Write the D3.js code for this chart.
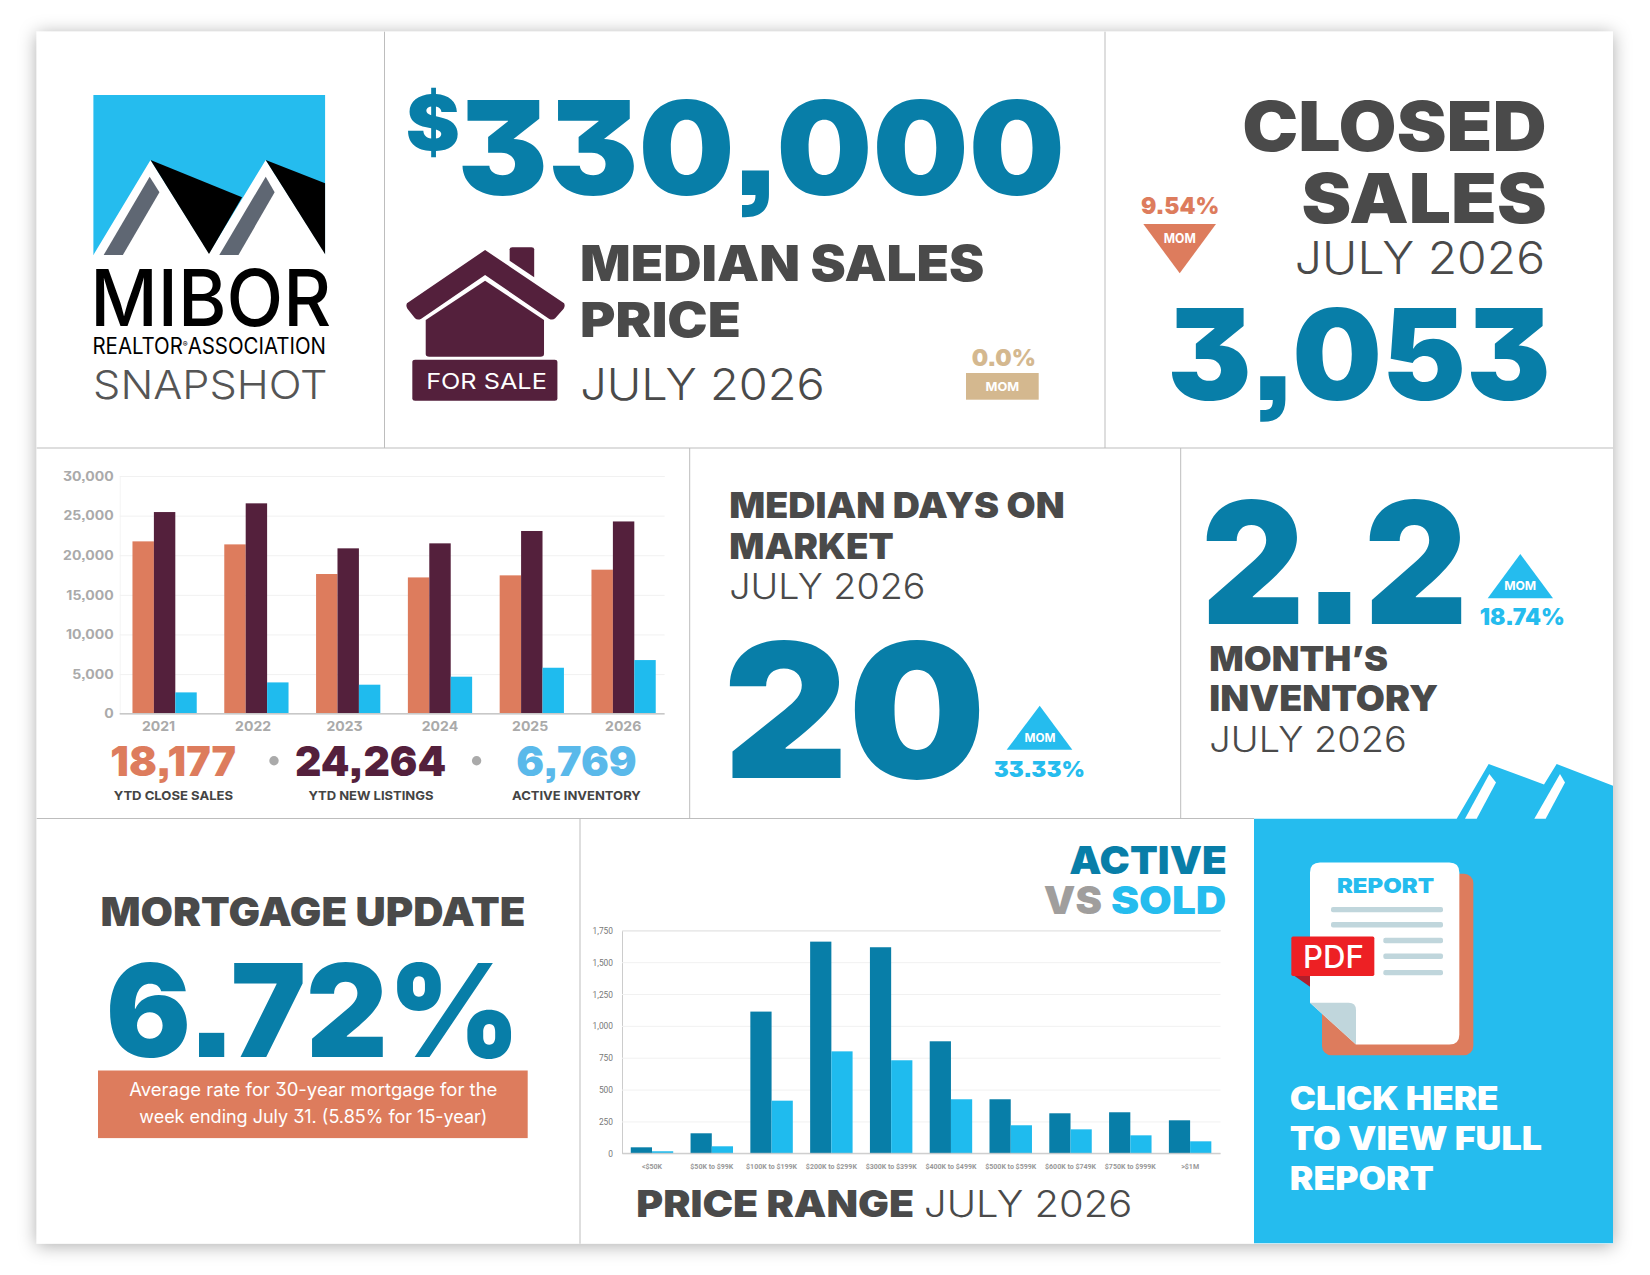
<!DOCTYPE html>
<html>
<head>
<meta charset="utf-8">
<script src="https://cdn.jsdelivr.net/npm/d3@7"></script>
<style>
  html, body { margin: 0; padding: 0; background: #fff; }
  svg { display: block; }
  text { font-family: Inter, Lato, "Open Sans", sans-serif; font-feature-settings: "cv09", "ss07"; }
</style>
</head>
<body>
<svg id="page" width="1650" height="1275"></svg>
<script>
// yearly chart
var years = ['2021', '2022', '2023', '2024', '2025', '2026'];
var closeSales = [21750, 21370, 17630, 17200, 17460, 18177];
var newListings = [25450, 26550, 20870, 21500, 23060, 24264];
var activeInventory = [2690, 3950, 3660, 4670, 5800, 6769];
var yearTicks = [0, 5000, 10000, 15000, 20000, 25000, 30000];

// price range chart
var priceRanges = ['<$50K', '$50K to $99K', '$100K to $199K', '$200K to $299K', '$300K to $399K',
  '$400K to $499K', '$500K to $599K', '$600K to $749K', '$750K to $999K', '>$1M'];
var activeCounts = [47, 157, 1112, 1661, 1617, 879, 424, 314, 322, 259];
var soldCounts = [16, 55, 413, 800, 730, 424, 220, 188, 141, 94];
var priceTicks = [0, 250, 500, 750, 1000, 1250, 1500, 1750];

var teal = '#087ea8', sky = '#25bcee', plum = '#54203c', coral = '#dd7c5d', ink = '#4a4a4a', tan = '#d4b88f';
var heavy = 900;

var svg = d3.select('#page');

var defs = svg.append('defs');
var shadow = defs.append('filter').attr('id', 'shadow')
  .attr('x', '-5%').attr('y', '-5%').attr('width', '110%').attr('height', '110%');
shadow.append('feDropShadow').attr('dx', 0).attr('dy', 2).attr('stdDeviation', 9)
  .attr('flood-color', '#000').attr('flood-opacity', 0.33);

svg.append('rect').attr('x', 36.7).attr('y', 31.7).attr('width', 1576.3).attr('height', 1212)
  .attr('fill', '#fff').attr('filter', 'url(#shadow)');

// text fitted between two x positions, size comes from the cap height
// the side bearings are pushed outside the two positions so the ink lands on them
function txt(s, x0, x1, base, capH, weight, fill, parent) {
  var size = capH / 0.727, b = size * 0.04;
  return (parent || svg).append('text')
    .attr('x', x0 - b).attr('y', base)
    .attr('font-size', size)
    .attr('font-weight', weight)
    .attr('fill', fill)
    .attr('textLength', x1 - x0 + 2 * b)
    .attr('lengthAdjust', 'spacingAndGlyphs')
    .text(s);
}
function squeeze(sel, k) {
  sel.each(function () {
    this.setAttribute('textLength', this.getComputedTextLength() * k);
    this.setAttribute('lengthAdjust', 'spacingAndGlyphs');
  });
}
function tri(points, fill) {
  svg.append('polygon').attr('points', points.join(' ')).attr('fill', fill);
}

// panel rules
var rules = [
  [36.7, 448, 1613, 448], [36.7, 818.5, 1254, 818.5],
  [384.5, 31.7, 384.5, 448], [1105, 31.7, 1105, 448],
  [689.7, 448, 689.7, 818.5], [1180.7, 448, 1180.7, 818.5],
  [580, 818.5, 580, 1243.7]
];
svg.selectAll('line.rule').data(rules).enter().append('line').attr('class', 'rule')
  .attr('x1', d => d[0]).attr('y1', d => d[1]).attr('x2', d => d[2]).attr('y2', d => d[3])
  .attr('stroke', '#bdbdbd').attr('stroke-width', 1);

// logo
var logo = svg.append('g').attr('transform', 'translate(30,20) scale(' + (1 / 2.24) + ',' + (1 / 3) + ')');
logo.append('rect').attr('x', 142).attr('y', 225).attr('width', 519).attr('height', 480).attr('fill', sky);
logo.append('polygon').attr('fill', '#fff').attr('points', '142,705 270,420 401,700 528,420 661,700 661,706');
logo.append('polygon').attr('fill', '#000').attr('points', '270,420 475,532 401,702');
logo.append('polygon').attr('fill', '#000').attr('points', '528,420 661,490 661,703');
logo.append('polygon').attr('fill', '#5f6773').attr('points', '268,470 290,517 208,705 165,705');
logo.append('polygon').attr('fill', '#5f6773').attr('points', '528,470 548,517 467,705 424,705');
txt('MIBOR', 93.4, 328, 325.7, 57, 500, '#000');
var realtor = txt('REALTOR', 93.4, 325, 354, 16.4, 400, '#000');
realtor.append('tspan').attr('font-size', 8).attr('dy', -7).text('\u00ae');
realtor.append('tspan').attr('dy', 7).text('ASSOCIATION');
txt('SNAPSHOT', 94.7, 326, 399, 29, 300, '#555');

// median price
txt('$', 408.8, 457, 150, 55, heavy, teal);
txt('330,000', 462.8, 1059.6, 195, 95, heavy, teal);
txt('MEDIAN SALES', 582, 982.4, 280.7, 36, heavy, ink);
txt('PRICE', 582, 739, 336.7, 35, heavy, ink);
txt('JULY 2026', 582, 823, 400, 31.7, 300, ink);
txt('0.0%', 972.6, 1035, 366, 16.7, heavy, tan);
svg.append('rect').attr('x', 966).attr('y', 373).attr('width', 72.7).attr('height', 26.7).attr('fill', tan);
txt('MOM', 986, 1018.6, 391, 9, 700, '#fff');

// house
var house = svg.append('g').attr('transform', 'translate(390,70) scale(' + (1 / 2.24) + ',' + (1 / 3) + ')').attr('fill', plum);
house.append('path').attr('d', 'M213,540 L390,700 Q393,708 389,716 L370,745 Q364,752 356,746 L213,615 L70,746 Q62,752 56,745 L39,716 Q35,708 38,700 Z');
house.append('path').attr('d', 'M268,572 V538 Q268,532 274,532 H317 Q323,532 323,538 V622 Z');
house.append('path').attr('d', 'M213,632 L345,750 V852 Q345,860 337,860 H88 Q80,860 80,852 V750 Z');
house.append('rect').attr('x', 50).attr('y', 869).attr('width', 325).attr('height', 123).attr('rx', 6);
txt('FOR SALE', 427, 546, 389, 15.5, 400, '#fff');

// closed sales
txt('CLOSED', 1245, 1544, 151, 50, heavy, ink);
txt('SALES', 1304.3, 1544, 223.3, 50, heavy, ink);
txt('JULY 2026', 1296.7, 1543.3, 274, 33, 300, ink);
txt('3,053', 1172.3, 1545.7, 400, 92, heavy, teal);
txt('9.54%', 1142, 1218.3, 214, 16.7, heavy, coral);
tri([[1143.3, 224], [1216, 224], [1179.7, 273.3]], coral);
txt('MOM', 1164.3, 1195.3, 243.3, 9.3, 700, '#fff');

// yearly bars
var yTop = 476, yBase = 713.7, plotL = 119.7, plotR = 664.6;
var y1 = d3.scaleLinear().domain([0, 30000]).range([yBase, yTop]);
var x1 = d3.scaleBand().domain(years).range([118.7, 669.5]).paddingInner(0.3).paddingOuter(0.15);
var x1s = d3.scaleBand().domain(['close', 'listings', 'active']).range([0, x1.bandwidth()]);
var x1Labels = d3.scaleOrdinal().domain(years).range([158, 252.6, 344, 439.4, 529.6, 622.7]);

var yAxis1 = svg.append('g').attr('transform', 'translate(' + plotL + ',0)')
  .call(d3.axisLeft(y1).tickValues(yearTicks).tickFormat(d3.format(',')).tickSize(-(plotR - plotL)).tickPadding(6));
yAxis1.select('.domain').attr('stroke', '#f4f4f4');
yAxis1.selectAll('.tick line').attr('stroke', '#f1f1f1');
yAxis1.selectAll('.tick text').attr('fill', '#aaa').attr('font-size', 13).attr('font-weight', 700)
  .style('font-family', 'Inter').call(squeeze, 1.08);

var series1 = [['close', closeSales, coral], ['listings', newListings, plum], ['active', activeInventory, '#1fbbee']];
series1.forEach(function (s) {
  svg.append('g').selectAll('rect').data(s[1]).enter().append('rect')
    .attr('x', (d, i) => x1(years[i]) + x1s(s[0]))
    .attr('y', d => y1(d))
    .attr('width', x1s.bandwidth())
    .attr('height', d => y1(0) - y1(d))
    .attr('fill', s[2]);
});
svg.append('line').attr('x1', plotL).attr('x2', plotR).attr('y1', yBase).attr('y2', yBase)
  .attr('stroke', '#c8c8c8').attr('stroke-width', 1.5);

var xAxis1 = svg.append('g').attr('transform', 'translate(0,' + yBase + ')')
  .call(d3.axisBottom(x1Labels).tickSize(0).tickPadding(8));
xAxis1.select('.domain').remove();
xAxis1.selectAll('.tick text').attr('fill', '#aaa').attr('font-size', 13.5).attr('font-weight', 700)
  .style('font-family', 'Inter').call(squeeze, 1.04);

txt('18,177', 112, 234.3, 776, 30, heavy, coral);
txt('24,264', 296.7, 444.5, 776, 30, heavy, plum);
txt('6,769', 518, 635, 776, 30, heavy, '#5ab9ea');
svg.append('circle').attr('cx', 274).attr('cy', 760.7).attr('r', 4.7).attr('fill', '#aaa');
svg.append('circle').attr('cx', 476.6).attr('cy', 760.7).attr('r', 4.7).attr('fill', '#aaa');
txt('YTD CLOSE SALES', 114.2, 232.6, 800, 9, 700, '#444');
txt('YTD NEW LISTINGS', 309, 433, 800, 9, 700, '#444');
txt('ACTIVE INVENTORY', 512.5, 640.3, 800, 9, 700, '#444');

// days on market
txt('MEDIAN DAYS ON', 730.7, 1063.3, 518.3, 25.7, heavy, ink);
txt('MARKET', 730.7, 892.3, 559, 25.7, heavy, ink);
txt('JULY 2026', 730.7, 924, 599.3, 26, 300, ink);
txt('20', 730.7, 978.3, 777.7, 135.7, heavy, teal);
tri([[1006.7, 749.7], [1072.3, 749.7], [1039.7, 705.7]], sky);
txt('MOM', 1025, 1055, 742, 8.7, 700, '#fff');
txt('33.33%', 994.7, 1084, 776.7, 16, heavy, sky);

// months of inventory
txt('2.2', 1208, 1460.7, 624.3, 123.7, heavy, teal);
tri([[1487.7, 598.3], [1553, 598.3], [1520.3, 554]], sky);
txt('MOM', 1504.7, 1535.7, 590, 9, 700, '#fff');
txt('18.74%', 1480.7, 1564, 624.7, 16.3, heavy, sky);
txt('MONTH\u2019S', 1210.7, 1386.7, 670.7, 25, heavy, ink);
txt('INVENTORY', 1210.7, 1436.7, 710.7, 25.7, heavy, ink);
txt('JULY 2026', 1210.7, 1405.3, 752, 25.5, 300, ink);

// mortgage
txt('MORTGAGE UPDATE', 102, 524, 926, 29, heavy, ink);
txt('6.72%', 111, 515, 1056.5, 93.7, heavy, teal);
svg.append('rect').attr('x', 98).attr('y', 1070.5).attr('width', 429.7).attr('height', 67.6).attr('fill', coral);
txt('Average rate for 30-year mortgage for the', 130, 496.7, 1096.2, 13.3, 400, '#fff');
txt('week ending July 31. (5.85% for 15-year)', 140, 486.7, 1123, 13.3, 400, '#fff');

// price range chart
txt('ACTIVE', 1070.9, 1225.3, 874, 28.3, heavy, teal);
txt('VS', 1045.3, 1100.4, 914, 27.7, heavy, '#a09e9d');
txt('SOLD', 1112.5, 1224.8, 914, 27.7, heavy, sky);
txt('PRICE RANGE', 637.7, 912.6, 1216.7, 26.7, heavy, ink);
txt('JULY 2026', 925.6, 1130.7, 1216.7, 26.7, 300, ink);

var y2Top = 930.3, y2Base = 1153.3, p2L = 622, p2R = 1220.5;
var y2 = d3.scaleLinear().domain([0, 1750]).range([y2Base, y2Top]);
var x2 = d3.scaleBand().domain(priceRanges).range([622.1, 1220]).paddingInner(0.29).paddingOuter(0.145);
var x2s = d3.scaleBand().domain(['active', 'sold']).range([0, x2.bandwidth()]);

var yAxis2 = svg.append('g').attr('transform', 'translate(' + p2L + ',0)')
  .call(d3.axisLeft(y2).tickValues(priceTicks).tickFormat(d3.format(',')).tickSize(-(p2R - p2L)).tickPadding(9));
yAxis2.select('.domain').attr('stroke', '#ccc');
yAxis2.selectAll('.tick line').attr('stroke', '#f1f1f1');
yAxis2.selectAll('.tick text').attr('fill', '#777').attr('font-size', 9.5)
  .style('font-family', 'Roboto').call(squeeze, 0.88);

[['active', activeCounts, teal], ['sold', soldCounts, '#1fbbee']].forEach(function (s) {
  svg.append('g').selectAll('rect').data(s[1]).enter().append('rect')
    .attr('x', (d, i) => x2(priceRanges[i]) + x2s(s[0]))
    .attr('y', d => y2(d))
    .attr('width', x2s.bandwidth())
    .attr('height', d => y2(0) - y2(d))
    .attr('fill', s[2]);
});
svg.append('line').attr('x1', p2L).attr('x2', p2R).attr('y1', y2Base).attr('y2', y2Base)
  .attr('stroke', '#c8c8c8').attr('stroke-width', 1);

var xAxis2 = svg.append('g').attr('transform', 'translate(0,' + y2Base + ')')
  .call(d3.axisBottom(x2).tickSize(0).tickPadding(10));
xAxis2.select('.domain').remove();
xAxis2.selectAll('.tick text').attr('fill', '#999').attr('font-size', 8).attr('font-weight', 700)
  .style('font-family', 'Roboto').call(squeeze, 0.88);

// call to action panel
var cta = svg.append('g').attr('transform', 'translate(1250,750) scale(' + (1 / 3) + ',' + (1 / 2.987) + ')');
cta.append('polygon').attr('fill', sky)
  .attr('points', '12,205 620,205 716,42 882,103 920,42 1089,107 1089,1473 12,1473');
cta.append('polygon').attr('fill', '#fff').attr('points', '645,205 718,72 738,97 680,205');
cta.append('polygon').attr('fill', '#fff').attr('points', '853,205 930,72 945,97 887,205');
cta.append('rect').attr('x', 216).attr('y', 370).attr('width', 454).attr('height', 542).attr('rx', 28).attr('fill', coral);
cta.append('path').attr('fill', '#fff')
  .attr('d', 'M210,336 H598 Q628,336 628,366 V850 Q628,880 598,880 H318 L180,755 V366 Q180,336 210,336 Z');
cta.append('path').attr('fill', '#c0d6dc')
  .attr('d', 'M180,755 H296 Q318,755 318,777 V880 Z');
[[243, 469, 336], [243, 514, 336], [400, 561, 179], [400, 608, 179], [400, 657, 179]].forEach(function (l) {
  cta.append('rect').attr('x', l[0]).attr('y', l[1]).attr('width', l[2]).attr('height', 16).attr('rx', 6).attr('fill', '#c0d6dc');
});
cta.append('polygon').attr('fill', '#b01f2b').attr('points', '124,668 180,707 180,668');
cta.append('rect').attr('x', 124).attr('y', 557).attr('width', 249).attr('height', 118).attr('rx', 5).attr('fill', '#ed2024');
txt('REPORT', 1337.7, 1433.3, 893, 14.3, heavy, sky);
txt('PDF', 1304.3, 1362.7, 967.7, 22.3, 500, '#fff');
txt('CLICK HERE', 1291, 1497.3, 1109.5, 23.3, heavy, '#fff');
txt('TO VIEW FULL', 1291, 1540.7, 1149.5, 23.3, heavy, '#fff');
txt('REPORT', 1291, 1432.7, 1189.5, 23.3, heavy, '#fff');
</script>
</body>
</html>
